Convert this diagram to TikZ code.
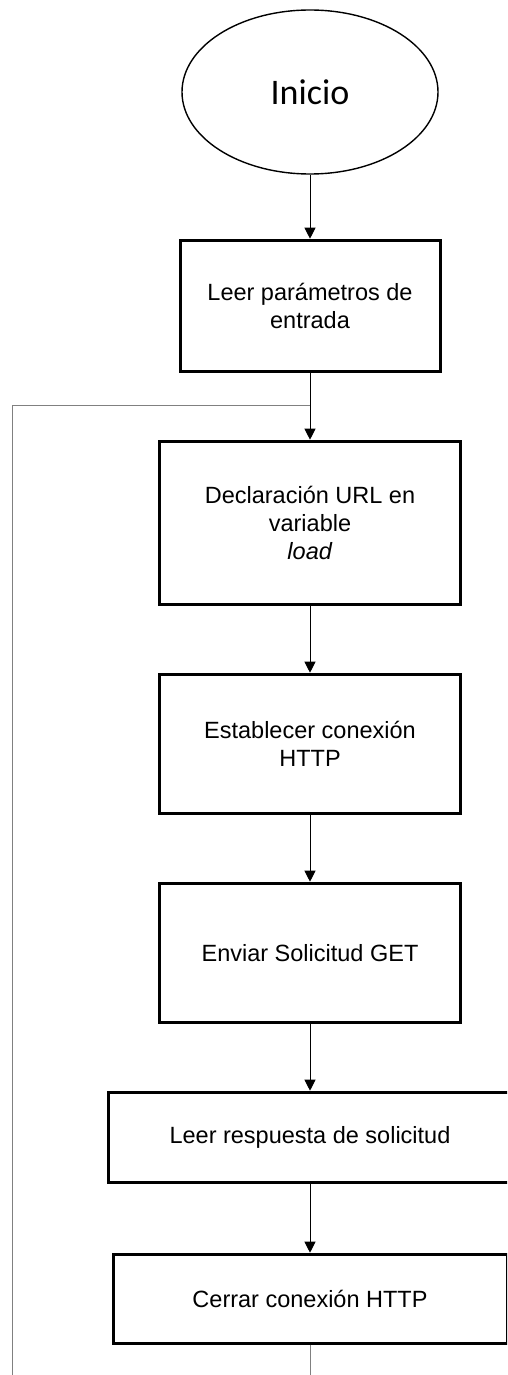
\documentclass[tikz,border=0pt]{standalone}
\usepackage{fontspec}
\setmainfont{Liberation Sans}
\newfontfamily\titlefont{Carlito}
\usepackage{tikz}
\usetikzlibrary{positioning,shapes.geometric,arrows.meta}

\begin{document}
\begin{tikzpicture}[
  x=1pt, y=-1pt,
  node distance=67pt,
  box/.style={draw, line width=3pt, minimum width=301pt, align=center, fill=white, inner sep=0pt, font=\fontsize{23.5}{28}\selectfont},
  startnode/.style={draw, ellipse, line width=1.4pt, minimum width=256pt, minimum height=164pt, font=\titlefont\fontsize{36}{40}\selectfont},
  arr/.style={-{Triangle[length=11pt, width=11pt]}, line width=1pt},
  fb/.style={gray, line width=1pt},
]
\useasboundingbox (0,0) rectangle (507,1375);
\clip (0,0) rectangle (507,1375);

% Start
\node[startnode] (start) at (310,92) {Inicio};

% Main steps
\node[box, minimum width=260pt, minimum height=131pt, below=64pt of start] (params) {Leer parámetros de\\entrada};
\node[box, minimum height=163pt, below=of params] (decl) {Declaración URL en\\variable\\\textit{load}};
\node[box, minimum height=139pt, below=of decl] (conn) {Establecer conexión\\HTTP};
\node[box, minimum height=139pt, below=of conn] (send) {Enviar Solicitud GET};
\node[box, minimum width=404pt, minimum height=90pt, below=of send] (resp) {Leer respuesta de solicitud};
\node[box, minimum width=394pt, minimum height=89pt, below=69pt of resp] (close) {Cerrar conexión HTTP};

% Loop points
\coordinate (join) at ([yshift=-33pt]params.south);
\coordinate (leftx) at (12,0);
\coordinate (corner) at (join -| leftx);
\coordinate (bottom) at (close.south |- 0,1375);

% Main flow
\draw[arr] (start) -- (params);
\draw[arr] (params) -- (decl);
\draw[arr] (decl) -- (conn);
\draw[arr] (conn) -- (send);
\draw[arr] (send) -- (resp);
\draw[arr] (resp) -- (close);

% Loop back
\draw[fb] (close.south) -- (bottom);
\draw[fb] (join) -- (corner) -- (corner |- bottom);
\end{tikzpicture}
\end{document}
